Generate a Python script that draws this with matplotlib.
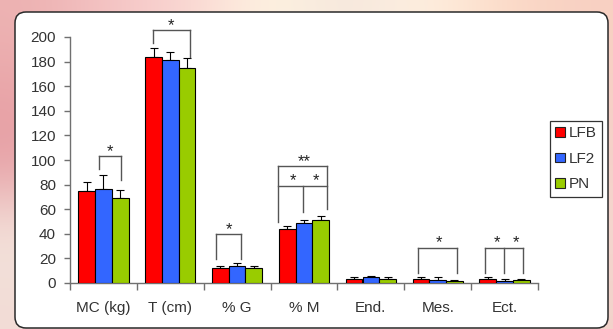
import numpy as np
import matplotlib
matplotlib.use("Agg")
import matplotlib.pyplot as plt
from matplotlib.patches import FancyBboxPatch, Patch
from matplotlib.colors import to_rgb

plt.rcParams['font.family'] = ['Liberation Sans', 'DejaVu Sans']

# ---- data ----
categories = ['MC (kg)', 'T (cm)', '% G', '% M', 'End.', 'Mes.', 'Ect.']
series_names = ['LFB', 'LF2', 'PN']
lfb = [75, 184, 12, 43.5, 3.5, 3.5, 3.5]
lf2 = [76.5, 181, 13.5, 48.5, 4.5, 2.2, 1.5]
pn = [69, 175, 12, 51, 3.5, 1.5, 2.8]
lfb_err = [7, 7, 2, 2.5, 1, 1, 1]
lf2_err = [11.5, 7, 2.5, 3, 1, 2.3, 1.8]
pn_err = [7, 8, 2, 3.5, 1, 0.7, 0.8]
y_ticks = [0, 20, 40, 60, 80, 100, 120, 140, 160, 180, 200]

# significance annotations: (category, legs [(bar pos, bottom)], top, labels [(bar pos, text)])
sig_brackets = [
    (0, [(0.74, 92.4), (2.05, 83.7)], 103.3, [(1.4, '*')]),
    (1, [(-0.04, 194.8), (2.19, 184)], 205.7, [(1.07, '*')]),
    (2, [(-0.24, 19.5), (1.23, 19.5)], 39.5, [(0.5, '*')]),
    (3, [(-0.57, 50), (2.36, 60)], 95, [(1.0, '**')]),
    (3, [(-0.57, 79), (0.92, 58), (2.36, 79)], 79, [(0.34, '*'), (1.70, '*')]),
    (5, [(-0.16, 8.4), (2.13, 8.4)], 28.7, [(1.1, '*')]),
    (6, [(-0.17, 8.4), (0.96, 8.4), (2.13, 8.4)], 28.7, [(0.53, '*'), (1.68, '*')]),
]

colors = ['#ff0000', '#3366ff', '#99cc00']

W, H = 613, 329
fig = plt.figure(figsize=(W / 100, H / 100), dpi=100)

# ---- background ----
bg = fig.add_axes([0, 0, 1, 1], zorder=-10)
grid = [
    ['#edb2b2', '#f5c6c6', '#fad6d2', '#fff6e2', '#f4e4da', '#fff2e2', '#fcdcc8', '#f8d0c2'],
    ['#e8a2a6', '#f2c4c4', '#fbe0dc', '#fff8ee', '#fbf0ea', '#fff4ec', '#fde4d6', '#f6d0c6'],
    ['#e69ea4', '#f0c6c6', '#fae6e2', '#fffaf4', '#fdf6f2', '#fff6f0', '#fde8de', '#f4d0c8'],
    ['#f4e4dc', '#f6e6e0', '#fcf2ee', '#fffcf8', '#fffaf6', '#fff8f4', '#fcece4', '#f4d6ce'],
    ['#f2dcd6', '#f4e0da', '#f8eae6', '#fcf4f0', '#fcf4f0', '#fcf0ea', '#fae4dc', '#f2d2ca'],
]
img = np.array([[to_rgb(c) for c in row] for row in grid])
bg.imshow(img, extent=(0, W, 0, H), aspect='auto', interpolation='bicubic', origin='upper')
bg.set_xlim(0, W)
bg.set_ylim(0, H)
bg.axis('off')
panel = FancyBboxPatch((15, 1), 593, 316, boxstyle='round,pad=0,rounding_size=11',
                       fc='white', ec='#2a2a2a', lw=1.1)
bg.add_patch(panel)

# ---- main axes ----
ax = fig.add_axes([70 / W, (H - 283) / H, 468 / W, 246 / H])
ax.set_facecolor('none')
x = np.arange(len(categories))
w = 0.25
series = [lfb, lf2, pn]
errs = [lfb_err, lf2_err, pn_err]
for i, (vals, e) in enumerate(zip(series, errs)):
    xp = x + (i - 1) * w
    ax.errorbar(xp, vals, yerr=[np.zeros(len(e)), e], fmt='none', ecolor='black',
                elinewidth=0.8, capsize=3, capthick=0.8, zorder=2)
    ax.bar(xp, vals, w, color=colors[i], edgecolor='black', linewidth=0.8,
           label=series_names[i], zorder=3)

ax.set_xlim(-0.5, len(categories) - 0.5)
ax.set_ylim(0, 200)
for s in ['top', 'right']:
    ax.spines[s].set_visible(False)
for s in ['left', 'bottom']:
    ax.spines[s].set_color('#707070')
    ax.spines[s].set_linewidth(1.0)
ax.set_yticks(y_ticks)
ax.tick_params(axis='y', length=4, width=1, color='#707070', labelsize=11,
               labelcolor='#333333', pad=6)
ax.set_xticks(x)
ax.set_xticklabels(categories)
ax.set_xticks(np.arange(len(categories) + 1) - 0.5, minor=True)
ax.tick_params(axis='x', which='major', length=0, labelsize=11, labelcolor='#333333', pad=13)
ax.tick_params(axis='x', which='minor', length=5, width=1, color='#707070')

# ---- significance brackets ----
line_kw = dict(color='#555555', lw=1.0, clip_on=False, zorder=4)
for cat, legs, top, labels in sig_brackets:
    xs = [cat + (p - 1) * w for p, _ in legs]
    ax.plot([min(xs), max(xs)], [top, top], **line_kw)
    for xl, (_, bot) in zip(xs, legs):
        if bot < top:
            ax.plot([xl, xl], [bot, top], **line_kw)
    for p, txt in labels:
        ax.annotate(txt, xy=(cat + (p - 1) * w, top), xytext=(0, 0.2),
                    textcoords='offset points', ha='center', va='baseline',
                    fontsize=12, color='#222222', annotation_clip=False)

# ---- legend ----
handles = [Patch(facecolor=c, edgecolor='#222222', linewidth=0.8) for c in colors]
leg = ax.legend(handles, series_names, loc='upper left', bbox_to_anchor=(550 / W, (H - 121) / H),
                bbox_transform=fig.transFigure, borderaxespad=0, fancybox=False,
                framealpha=1, edgecolor='#333333', fontsize=11, handlelength=0.6,
                handleheight=0.6, handletextpad=0.3, labelspacing=0.75, borderpad=0.35)
leg.get_frame().set_linewidth(0.9)
for t in leg.get_texts():
    t.set_color('#333333')

fig.savefig('out.png', dpi=100)
